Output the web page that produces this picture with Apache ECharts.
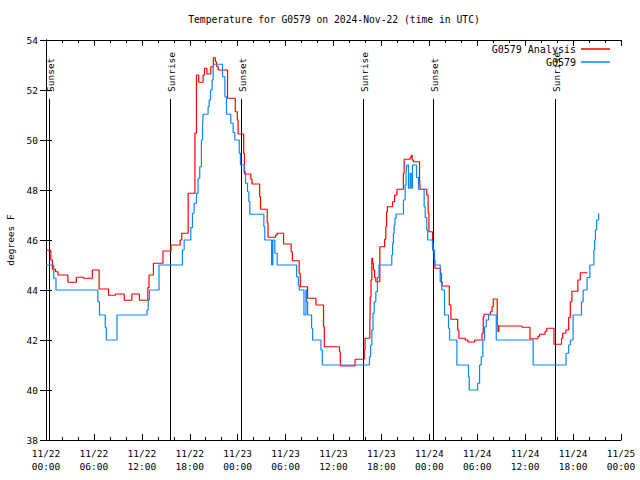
<!DOCTYPE html>
<html><head><meta charset="utf-8">
<script src="https://cdn.jsdelivr.net/npm/echarts@6/dist/echarts.min.js"></script>
<style>html,body{margin:0;padding:0;background:#fff}#c{width:640px;height:480px}</style>
</head><body><div id="c"></div>
<script>
// hours since 2024-11-22 00:00 UTC
const analysisTimes = [0,0.6,0.8,1.2,1.5,2.74,3.8,4.7,5.8,6.65,7.84,8.7,9.8,10.75,11.7,12.75,12.9,13.45,14.65,15.65,16.8,17.0,17.8,18.65,18.84,19.13,19.67,19.85,20.15,20.63,20.95,21.2,21.35,21.55,22.73,23.7,23.95,24.05,24.75,24.85,25.65,25.8,26.75,26.86,27.7,27.8,28.75,28.95,29.75,30.7,30.85,31.7,31.84,32.75,33.8,34.75,34.85,36.75,36.85,36.9,38.7,39.85,39.95,40.55,40.6,40.7,40.8,40.9,41.0,41.15,41.3,41.8,42.4,42.55,42.65,42.75,43.4,43.65,43.95,44.75,44.85,45.6,45.75,45.85,46.0,46.77,46.85,47.68,47.85,47.95,48.4,48.5,48.6,48.7,49.4,49.5,49.6,50.5,50.7,51.55,51.7,52.5,52.83,53.67,54.6,54.75,54.85,55.65,55.85,56.0,56.5,56.6,56.7,59.6,60.6,61.6,61.8,62.5,62.7,63.6,64.55,64.7,65.1,65.45,65.65,65.85,66.6,66.9,67.8];
const analysisTemps = [45.59,45.2,44.83,44.73,44.6,44.31,44.51,44.47,44.8,44.04,43.79,43.84,43.59,43.84,43.59,44.1,44.6,45.07,45.56,45.8,46.0,46.27,47.87,50.27,52.6,52.31,52.6,52.87,52.64,52.93,53.29,53.13,52.95,52.8,51.67,51.13,50.8,50.24,49.47,48.64,48.43,48.24,47.73,47.23,46.69,46.11,46.2,46.27,45.84,45.53,45.17,44.67,44.13,43.67,43.4,42.53,41.73,41.53,41.07,40.96,41.23,41.6,42.07,42.5,43.73,44.4,45.27,45.07,44.8,44.5,44.33,45.73,46.03,46.53,47.13,47.33,47.53,47.8,48.03,48.67,49.23,49.31,49.39,49.2,49.13,48.53,48.03,47.8,47.07,46.33,45.87,45.53,45.2,44.87,44.67,44.33,44.16,43.4,42.83,42.4,42.07,42.0,41.92,42.0,42.27,42.93,43.03,43.13,43.33,43.64,42.6,42.33,42.56,42.51,42.05,42.15,42.23,42.35,42.47,41.83,42.07,42.27,42.4,42.9,43.53,43.95,44.4,44.69,44.69];

const obsTimes = [0,0.97,1.25,6.5,6.7,7.42,7.55,8.89,12.65,12.8,12.95,14.15,17.08,17.3,18.13,18.34,18.54,18.84,19.04,19.25,19.46,19.6,19.67,20.3,20.43,20.6,20.8,20.93,21.0,22.1,22.4,22.6,23.14,23.43,23.64,24.2,24.35,24.81,24.98,25.23,25.4,25.52,27.28,27.4,28.25,28.4,28.65,28.95,31.38,31.59,31.72,32.3,32.55,32.64,32.76,33.26,33.39,34.43,34.6,40.5,40.65,40.8,40.95,41.1,41.3,41.5,41.7,43.3,43.4,43.5,43.6,43.7,43.84,44.76,44.97,45.09,45.17,45.39,45.6,45.72,45.89,46.4,46.64,47.35,47.48,47.68,47.8,48.4,48.65,49.36,49.57,49.9,50.4,50.53,51.45,52.9,53.0,54.05,54.29,54.5,54.7,54.92,55.13,55.42,56.38,61.0,65.12,65.45,65.67,66.0,67.05,67.26,67.75,68.1,68.6,68.7,68.8,68.95,69.2];
const obsTemps = [45.0,44.47,44.0,43.53,43.0,42.5,42.0,43.0,43.2,43.6,44.0,45.0,45.6,46.0,46.5,47.07,47.47,47.87,48.47,48.93,50.0,50.5,51.03,51.33,51.6,52.0,52.4,52.87,53.03,52.53,51.73,51.03,50.67,50.3,50.0,49.47,49.0,48.73,48.27,47.93,47.53,47.03,46.53,46.0,45.0,46.0,45.47,45.0,44.53,44.2,44.0,43.0,44.0,43.53,43.0,42.47,42.0,41.6,41.0,41.33,41.8,42.4,43.07,43.53,43.93,44.5,45.0,45.4,45.87,46.27,46.6,46.87,47.04,47.6,48.2,48.67,49.0,48.07,48.67,48.07,49.0,48.5,48.03,47.33,46.9,46.4,46.0,45.6,45.0,44.33,44.0,43.0,42.47,42.0,41.0,40.53,40.0,40.27,41.0,41.33,42.0,42.53,42.8,43.0,42.0,41.0,41.47,41.8,42.0,43.0,43.53,44.0,44.5,45.0,45.6,46.0,46.4,46.8,47.07];

const eventTimes = [0.35,15.53,24.44,39.67,48.4,63.7];
const eventLabels = ['Sunset','Sunrise','Sunset','Sunrise','Sunset','Sunrise'];

const xTickLabels = ['11/22\n00:00','11/22\n06:00','11/22\n12:00','11/22\n18:00','11/23\n00:00','11/23\n06:00','11/23\n12:00','11/23\n18:00','11/24\n00:00','11/24\n06:00','11/24\n12:00','11/24\n18:00','11/25\n00:00'];
const seriesNames = ['G0579 Analysis','G0579'];
const titleText = 'Temperature for G0579 on 2024-Nov-22 (time in UTC)';
const yAxisTitle = 'degrees F';

const MONO = '"DejaVu Sans Mono", "Liberation Mono", monospace';
const chart = echarts.init(document.getElementById('c'), null, {renderer:'svg'});

const tickCommon = {
  axisLine:{show:true, lineStyle:{color:'#000', width:1}},
  axisTick:{show:true, inside:true, length:6, lineStyle:{color:'#000'}},
  splitLine:{show:false}
};

chart.setOption({
  animation:false,
  backgroundColor:'#fff',
  title:{text:titleText, left:334, textAlign:'center', top:14, padding:0,
    textStyle:{fontFamily:MONO, fontSize:9.7, fontWeight:'normal', color:'#000'}},
  legend:[
    {data:[seriesNames[0]], right:30, top:44, padding:0, align:'right', icon:'rect', itemWidth:29, itemHeight:1.5,
      textStyle:{fontFamily:MONO, fontSize:10, color:'#000'}},
    {data:[seriesNames[1]], right:30, top:57, padding:0, align:'right', icon:'rect', itemWidth:29, itemHeight:1.5,
      textStyle:{fontFamily:MONO, fontSize:10, color:'#000'}}
  ],
  grid:{left:46, right:19, top:40, bottom:40, containLabel:false, outerBoundsMode:'none'},
  xAxis:[
    Object.assign({type:'value', min:0, max:72, interval:6, position:'bottom',
      minorTick:{show:true, splitNumber:3, length:3, lineStyle:{color:'#000'}},
      axisLabel:{formatter:v=>xTickLabels[Math.round(v/6)], fontFamily:MONO, fontSize:9.5, color:'#000', lineHeight:13, margin:7}}, tickCommon),
    Object.assign({type:'value', min:0, max:72, interval:6, position:'top',
      minorTick:{show:true, splitNumber:3, length:3, lineStyle:{color:'#000'}},
      axisLabel:{show:false}}, tickCommon)
  ],
  yAxis:[
    Object.assign({type:'value', min:38, max:54, interval:2, position:'left',
      name:yAxisTitle, nameLocation:'middle', nameGap:31, nameRotate:90,
      nameTextStyle:{fontFamily:MONO, fontSize:9.5, color:'#000'},
      axisLabel:{fontFamily:MONO, fontSize:9.5, color:'#000', margin:8}}, tickCommon),
    Object.assign({type:'value', min:38, max:54, interval:2, position:'right',
      axisLabel:{show:false}}, tickCommon)
  ],
  series:[
    {name:seriesNames[0], type:'line', step:'end', showSymbol:false, symbol:'none',
      color:'#ff0000', lineStyle:{width:1.2, color:'#ff0000'},
      data:analysisTimes.map((t,i)=>[t, analysisTemps[i]])},
    {name:seriesNames[1], type:'line', step:'end', showSymbol:false, symbol:'none',
      color:'#0a84ff', lineStyle:{width:1.2, color:'#0a84ff'},
      data:obsTimes.map((t,i)=>[t, obsTemps[i]])},
    {type:'custom', silent:true,
      data:eventTimes.map(t=>[t, 38]),
      renderItem:function(params, api){
        const h = api.value(0);
        const b = api.coord([h, 38]);
        const tp = api.coord([h, 54]);
        const x = Math.round(b[0]) + 0.5;
        return {type:'group', children:[
          {type:'line', shape:{x1:x, y1:b[1], x2:x, y2:tp[1]+59}, style:{stroke:'#000', lineWidth:1}},
          {type:'text', x:x+1, y:tp[1]+52, rotation:Math.PI/2,
            style:{text:eventLabels[params.dataIndex], fill:'#000', font:'9.5px ' + MONO, align:'left', verticalAlign:'middle'}}
        ]};
      }}
  ]
});
</script></body></html>
